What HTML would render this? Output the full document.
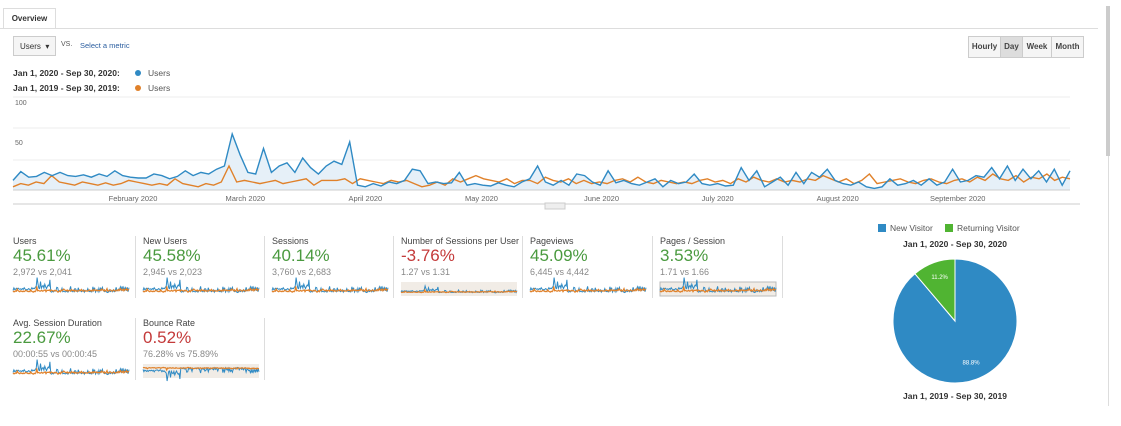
<!DOCTYPE html>
<html><head><meta charset="utf-8"><style>
body{margin:0;width:1121px;height:426px;background:#fff;font-family:"Liberation Sans",Arial,sans-serif;position:relative;overflow:hidden;color:#333}
.a{position:absolute}
.btn{position:absolute;top:36px;height:20px;border:1px solid #ccc;background:#f5f5f5;font-size:8px;font-weight:bold;line-height:20px;text-align:center;color:#444}
.m{position:absolute;width:124px;height:72px}
.m .l{font-size:9px;color:#444;position:absolute;top:0;left:0;white-space:nowrap}
.m .p{font-size:17px;position:absolute;top:10px;left:0}
.m .s{font-size:9px;color:#888;position:absolute;top:31px;left:0}
.g{color:#4a9a3f}.r{color:#c43a3a}
.sep{position:absolute;width:1px;background:#ddd}
</style></head><body>
<div class="a" style="left:3px;top:8px;width:51px;height:20px;border:1px solid #ddd;border-bottom:none;font-size:8px;font-weight:bold;line-height:20px;text-align:center;background:#fff">Overview</div>
<div class="a" style="left:0;top:28px;width:1098px;height:1px;background:#ddd"></div>
<div class="a" style="left:1108px;top:6px;width:1px;height:400px;background:#ddd"></div>
<div class="a" style="left:1106px;top:6px;width:4px;height:150px;background:#ccc"></div>
<div class="a" style="left:13px;top:36px;width:43px;height:20px;border:1px solid #ccc;background:#f5f5f5;font-size:8px;line-height:20px;padding-left:6px;box-sizing:border-box">Users &nbsp;▾</div>
<div class="a" style="left:61px;top:41px;font-size:7px;color:#555">VS.</div>
<div class="a" style="left:80px;top:41px;font-size:7.5px;color:#2a5d9f">Select a metric</div>
<div class="btn" style="left:968px;width:31px">Hourly</div>
<div class="btn" style="left:1000px;width:21px;background:#ddd">Day</div>
<div class="btn" style="left:1022px;width:28px">Week</div>
<div class="btn" style="left:1051px;width:31px">Month</div>
<div class="a" style="left:13px;top:68px;font-size:8.5px;font-weight:bold">Jan 1, 2020 - Sep 30, 2020:</div>
<div class="a" style="left:135px;top:70px;width:6px;height:6px;border-radius:3px;background:#2f8ac4"></div>
<div class="a" style="left:148px;top:68px;font-size:8.5px;color:#555">Users</div>
<div class="a" style="left:13px;top:83px;font-size:8.5px;font-weight:bold">Jan 1, 2019 - Sep 30, 2019:</div>
<div class="a" style="left:135px;top:85px;width:6px;height:6px;border-radius:3px;background:#e0812a"></div>
<div class="a" style="left:148px;top:83px;font-size:8.5px;color:#555">Users</div>

<svg class="a" style="left:0;top:90px" width="1100" height="125" id="mc"></svg>

<div class="m" style="left:13px;top:236px"><div class="l">Users</div><div class="p g">45.61%</div><div class="s">2,972 vs 2,041</div></div>
<div class="m" style="left:143px;top:236px"><div class="l">New Users</div><div class="p g">45.58%</div><div class="s">2,945 vs 2,023</div></div>
<div class="m" style="left:272px;top:236px"><div class="l">Sessions</div><div class="p g">40.14%</div><div class="s">3,760 vs 2,683</div></div>
<div class="m" style="left:401px;top:236px"><div class="l">Number of Sessions per User</div><div class="p r">-3.76%</div><div class="s">1.27 vs 1.31</div></div>
<div class="m" style="left:530px;top:236px"><div class="l">Pageviews</div><div class="p g">45.09%</div><div class="s">6,445 vs 4,442</div></div>
<div class="m" style="left:660px;top:236px"><div class="l">Pages / Session</div><div class="p g">3.53%</div><div class="s">1.71 vs 1.66</div></div>
<div class="m" style="left:13px;top:318px"><div class="l">Avg. Session Duration</div><div class="p g">22.67%</div><div class="s">00:00:55 vs 00:00:45</div></div>
<div class="m" style="left:143px;top:318px"><div class="l">Bounce Rate</div><div class="p r">0.52%</div><div class="s">76.28% vs 75.89%</div></div>
<div class="sep" style="left:135px;top:236px;height:62px"></div>
<div class="sep" style="left:264px;top:236px;height:62px"></div>
<div class="sep" style="left:393px;top:236px;height:62px"></div>
<div class="sep" style="left:522px;top:236px;height:62px"></div>
<div class="sep" style="left:652px;top:236px;height:62px"></div>
<div class="sep" style="left:782px;top:236px;height:62px"></div>
<div class="sep" style="left:135px;top:318px;height:62px"></div>
<div class="sep" style="left:264px;top:318px;height:62px"></div>
<svg class="a" style="left:0;top:0" width="800" height="426" id="sp"></svg>

<div class="a" style="left:878px;top:224px;width:8px;height:8px;background:#2f8ac4"></div>
<div class="a" style="left:890px;top:223px;font-size:8.5px;color:#555">New Visitor</div>
<div class="a" style="left:945px;top:224px;width:8px;height:8px;background:#50b432"></div>
<div class="a" style="left:957px;top:223px;font-size:8.5px;color:#555">Returning Visitor</div>
<div class="a" style="left:840px;width:230px;text-align:center;top:239px;font-size:8.5px;font-weight:bold">Jan 1, 2020 - Sep 30, 2020</div>
<svg class="a" style="left:880px;top:250px" width="150" height="140" id="pie"></svg>
<div class="a" style="left:840px;width:230px;text-align:center;top:391px;font-size:8.5px;font-weight:bold">Jan 1, 2019 - Sep 30, 2019</div>

<script>
const months=["February 2020","March 2020","April 2020","May 2020","June 2020","July 2020","August 2020","September 2020"];
const monthDays=[31,60,91,121,152,182,213,244];
const yTicks=[100,50];
const users2020=[12,23,16,17,22,18,22,18,17,19,16,20,17,24,18,16,15,15,20,18,14,17,24,18,22,20,26,30,70,44,22,20,52,22,30,34,22,40,28,20,30,36,32,60,6,4,8,5,10,8,12,26,24,8,10,8,9,22,6,8,6,5,9,6,4,10,14,30,10,6,12,6,20,18,10,6,24,9,12,8,6,10,14,4,12,8,10,20,8,6,8,5,6,28,12,24,4,10,16,6,22,8,22,16,26,12,8,6,10,4,2,4,14,6,8,12,6,14,6,10,26,10,12,18,16,28,14,30,12,26,14,24,10,26,6,24];
const users2019=[4,8,6,10,8,18,10,8,6,10,8,6,9,6,8,12,10,8,6,8,6,14,8,6,4,8,6,10,30,10,12,10,8,10,12,8,10,12,14,6,12,12,12,14,8,14,12,10,8,12,10,12,8,4,6,10,6,14,10,14,18,14,12,10,14,8,12,12,8,16,12,10,14,8,12,8,10,8,12,14,10,16,10,8,12,10,8,10,8,12,14,10,12,8,14,10,16,12,10,14,10,12,10,14,12,18,14,10,14,8,12,20,8,10,12,14,10,8,12,14,10,8,12,14,10,16,12,20,14,12,18,10,16,14,20,12,16,14];
const pieShares=[88.8,11.2];
const pieLabels=["88.8%","11.2%"];
const NS="http://www.w3.org/2000/svg";
function mk(p,t,a){const e=document.createElementNS(NS,t);for(const k in a)e.setAttribute(k,a[k]);p.appendChild(e);return e;}
const mc=document.getElementById('mc');
const X0=13,X1=1070,Y0=100;
const xDay=d=>X0+(X1-X0)*d/273;
const xIdx=(i,n)=>X0+(X1-X0)*i/(n-1);
const yv=v=>Y0-v*0.8;
[7,38,70].forEach(y=>{const l=mk(mc,'line',{x1:X0,x2:X1,y1:y,y2:y,stroke:'#eee'});

});
yTicks.forEach(v=>{const t=mk(mc,'text',{x:15,y:yv(v)-5,'font-size':7,fill:'#666'});t.textContent=v;

});
months.forEach((m,i)=>{const t=mk(mc,'text',{x:xDay(monthDays[i]),y:111,'font-size':7.5,fill:'#666','text-anchor':'middle'});t.textContent=m;

});
mk(mc,'line',{x1:X0,x2:1080,y1:114,y2:114,stroke:'#ccc'});
mk(mc,'rect',{x:545,y:113,width:20,height:6,fill:'#eee',stroke:'#ccc'});
function pts(a,xf,yf){return a.map((v,i)=>xf(i,a.length).toFixed(1)+','+yf(v).toFixed(1)).join(' ');}
const area=mk(mc,'polygon',{points:X0+','+Y0+' '+pts(users2020,xIdx,yv)+' '+X1+','+Y0,fill:'#e6f0f8'});


const lo=mk(mc,'polyline',{points:pts(users2019,xIdx,yv),fill:'none',stroke:'#e0812a','stroke-width':1.4});


const lb=mk(mc,'polyline',{points:pts(users2020,xIdx,yv),fill:'none',stroke:'#2f8ac4','stroke-width':1.4});


mk(mc,'line',{x1:X0,x2:X1,y1:Y0,y2:Y0,stroke:'#ccc'});
const sp=document.getElementById('sp');
const cells=[[13,282],[143,282],[272,282],[401,282],[530,282],[660,282],[13,364],[143,364]];
cells.forEach((c,k)=>{const x0=c[0],w=116,by=c[1]+14;
 const xf=(i,n)=>x0+w*i/(n-1);
 const sc=k==3?0.1:0.22;
 const yf=v=>by-3-v*sc;
 if(k==7||k==3||k==5)mk(sp,'rect',{x:x0,y:c[1],width:w,height:14,fill:'#f1ece6',stroke:k==5?'#bbb':'none'});
 const b=mk(sp,'polyline',{points:pts(users2020,xf,k==7?(v=>c[1]+3+v*0.2):yf),fill:'none',stroke:'#2f8ac4','stroke-width':1});
 
 
 const o=mk(sp,'polyline',{points:pts(users2019,xf,k==7?(v=>c[1]+3+v*0.1):yf),fill:'none',stroke:'#e0812a','stroke-width':1.2});
 
 
});
const pie=document.getElementById('pie');const cx=75,cy=71,R=62;
let ang=0;const cols=['#2f8ac4','#50b432'];
pieShares.forEach((s,i)=>{const a0=ang,a1=ang+s/100*2*Math.PI;ang=a1;
 const p=a=>[cx+R*Math.sin(a),cy-R*Math.cos(a)];
 const [x0,y0]=p(a0),[x1,y1]=p(a1);const big=(a1-a0)>Math.PI?1:0;
 const e=mk(pie,'path',{d:`M${cx},${cy} L${x0},${y0} A${R},${R} 0 ${big} 1 ${x1},${y1} Z`,fill:cols[i],stroke:'#fff','stroke-width':1});
 
 
 const m=(a0+a1)/2,r=i==0?R*0.75:R*0.72;
 const t=mk(pie,'text',{x:cx+r*Math.sin(m),y:cy-r*Math.cos(m),'font-size':6,fill:'#fff','text-anchor':'middle'});t.textContent=pieLabels[i];
 
 
});
</script>
</body></html>
